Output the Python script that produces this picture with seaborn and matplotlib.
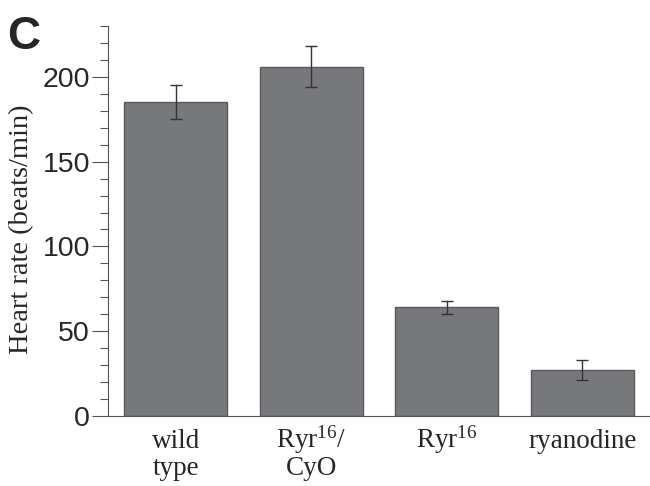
import matplotlib
matplotlib.use("Agg")
import numpy as np
import pandas as pd
import matplotlib.pyplot as plt
import seaborn as sns
from matplotlib.ticker import MultipleLocator

# data
groups = ['wild\ntype', 'Ryr$^{16}$/\nCyO', 'Ryr$^{16}$', 'ryanodine']
heart_rate = [185, 206, 64, 27]
heart_rate_err = [10, 12, 4, 6]
y_ticks = [0, 50, 100, 150, 200]

sns.set_style('ticks')
plt.rcParams['font.family'] = ['Liberation Serif', 'DejaVu Serif']
plt.rcParams['mathtext.fontset'] = 'custom'
plt.rcParams['mathtext.rm'] = 'Liberation Serif'
plt.rcParams['mathtext.it'] = 'Liberation Serif'
plt.rcParams['mathtext.bf'] = 'Liberation Serif'

df = pd.DataFrame({'group': groups, 'rate': heart_rate})

fig = plt.figure(figsize=(6.5, 4.86), dpi=100)
ax = fig.add_axes([0.1662, 0.144, 0.8338, 0.8025])

sns.barplot(data=df, x='group', y='rate', color='#77787b', saturation=1,
            width=0.76, edgecolor='#5a5a5a', linewidth=1, ax=ax)
ax.errorbar(range(len(groups)), heart_rate, yerr=heart_rate_err, fmt='none',
            ecolor='#333333', elinewidth=1, capsize=4.3, capthick=1)

ax.set_xlim(-0.5, 3.5)
ax.set_ylim(0, 230)
ax.set_yticks(y_ticks)
ax.yaxis.set_minor_locator(MultipleLocator(10))
for lab in ax.get_yticklabels():
    lab.set_family('Liberation Sans')
    lab.set_fontsize(20.5)
ax.tick_params(axis='y', which='major', length=11.5, width=0.8, pad=1.5,
               color='#555555')
ax.tick_params(axis='y', which='minor', length=5.8, width=0.8, color='#555555')

# x labels: each line on its own baseline so the superscript doesn't push
# the Ryr labels down
ax.tick_params(axis='x', length=0)
ax.set_xticklabels([])
trans = ax.get_xaxis_transform()
for i, g in enumerate(groups):
    lines = g.split('\n')
    for j, line in enumerate(lines):
        ax.text(i, [-0.082, -0.151][j], line, transform=trans, ha='center',
                va='baseline', fontsize=19.5, clip_on=False)

ax.set_xlabel('')
ax.set_ylabel('Heart rate (beats/min)', fontsize=20.5)
ax.yaxis.set_label_coords(-0.137, 0.48)

sns.despine(ax=ax)
for s in ['left', 'bottom']:
    ax.spines[s].set_color('#555555')
    ax.spines[s].set_linewidth(0.8)

fig.text(7 / 650, 1 - 15 / 486, 'C', ha='left', va='top', fontsize=33,
         fontweight='bold', family='Liberation Sans')

fig.savefig('out.png', dpi=100)
